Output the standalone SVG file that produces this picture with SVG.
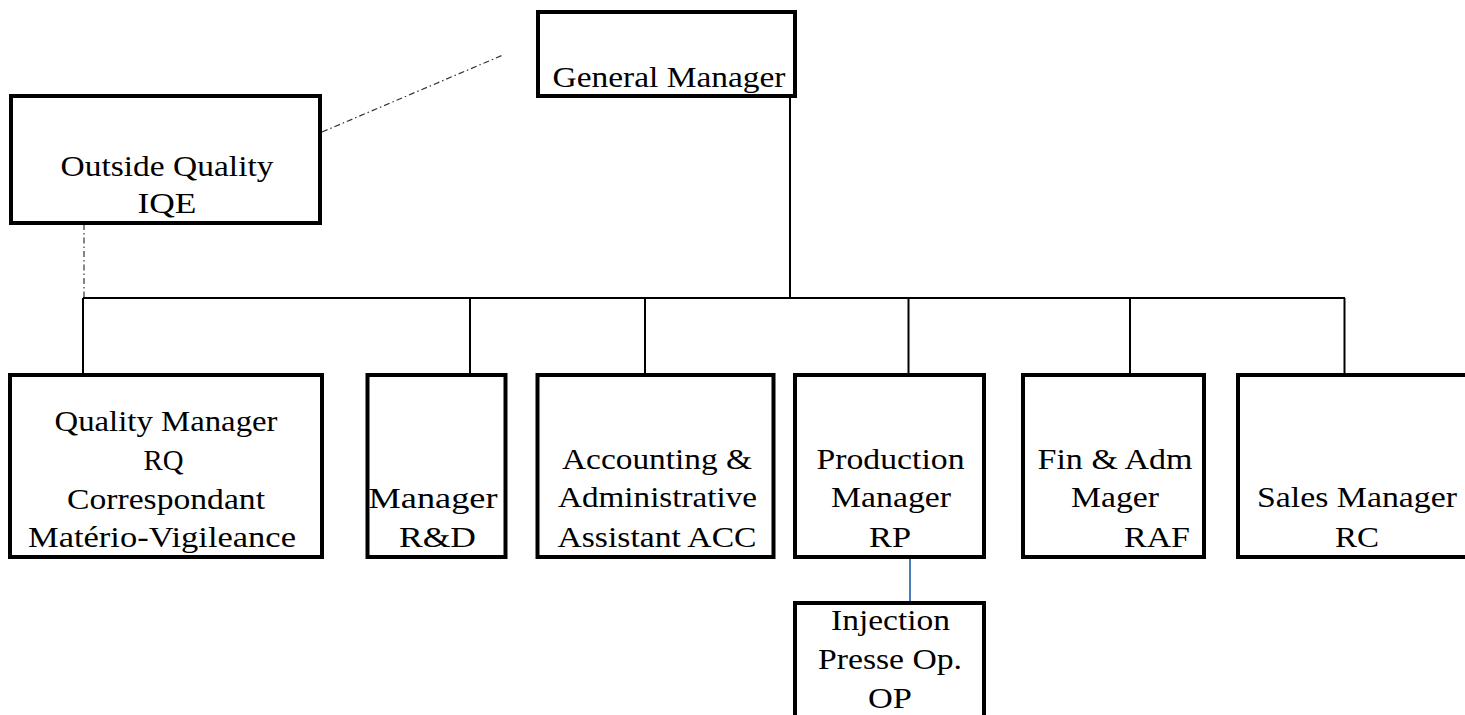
<svg xmlns="http://www.w3.org/2000/svg" width="1465" height="715" viewBox="0 0 1465 715">
  <style>
    .box { fill: #ffffff; stroke: #000000; stroke-width: 4; }
    .wire { fill: none; stroke: #000000; stroke-width: 2; }
    .dotted { fill: none; stroke: #333333; stroke-width: 1.2; stroke-dasharray: 6 3 1.5 3; }
    .blue { fill: none; stroke: #4a7ebb; stroke-width: 2; }
    .lbl { font-size: 29px; font-weight: normal; fill: #000000; text-anchor: middle; }
  </style>
  <rect width="1465" height="715" fill="#ffffff"/>

  <!-- connectors -->
  <g id="connectors">
    <line class="dotted" x1="322" y1="132" x2="503" y2="55"/>
    <line class="dotted" x1="84" y1="224" x2="84" y2="297"/>
    <line class="wire" x1="790" y1="96" x2="790" y2="298"/>
    <line class="wire" x1="83" y1="298" x2="1345" y2="298"/>
    <line class="wire" x1="83" y1="298" x2="83" y2="375"/>
    <line class="wire" x1="470" y1="298" x2="470" y2="375"/>
    <line class="wire" x1="645" y1="298" x2="645" y2="375"/>
    <line class="wire" x1="908.5" y1="298" x2="908.5" y2="375"/>
    <line class="wire" x1="1130" y1="298" x2="1130" y2="375"/>
    <line class="wire" x1="1344.5" y1="298" x2="1344.5" y2="375"/>
    <line class="blue" x1="910" y1="557" x2="910" y2="603"/>
  </g>

  <g font-family="Liberation Serif, serif">
  <g id="general-manager">
    <rect class="box" x="538" y="12" width="257" height="84"/>
    <text class="lbl" x="669" y="87" textLength="233" lengthAdjust="spacingAndGlyphs">General Manager</text>
  </g>

  <g id="outside-quality">
    <rect class="box" x="11" y="96" width="309" height="127"/>
    <text class="lbl" x="167" y="175.5" textLength="213" lengthAdjust="spacingAndGlyphs">Outside Quality</text>
    <text class="lbl" x="167" y="213" textLength="59" lengthAdjust="spacingAndGlyphs">IQE</text>
  </g>

  <g id="quality-manager">
    <rect class="box" x="10" y="375" width="312" height="182"/>
    <text class="lbl" x="166" y="431" textLength="223" lengthAdjust="spacingAndGlyphs">Quality Manager</text>
    <text class="lbl" x="163.5" y="470" textLength="40" lengthAdjust="spacingAndGlyphs">RQ</text>
    <text class="lbl" x="166" y="508.5" textLength="198" lengthAdjust="spacingAndGlyphs">Correspondant</text>
    <text class="lbl" x="162" y="547" textLength="268" lengthAdjust="spacingAndGlyphs">Matério-Vigileance</text>
  </g>

  <g id="manager-rd">
    <rect class="box" x="367.5" y="375" width="138" height="182"/>
    <text class="lbl" x="433" y="508" textLength="129" lengthAdjust="spacingAndGlyphs">Manager</text>
    <text class="lbl" x="437.5" y="547" textLength="77" lengthAdjust="spacingAndGlyphs">R&amp;D</text>
  </g>

  <g id="accounting-assistant">
    <rect class="box" x="537.5" y="375" width="236" height="182"/>
    <text class="lbl" x="657" y="469" textLength="190" lengthAdjust="spacingAndGlyphs">Accounting &amp;</text>
    <text class="lbl" x="657.5" y="507" textLength="199" lengthAdjust="spacingAndGlyphs">Administrative</text>
    <text class="lbl" x="657" y="547" textLength="199" lengthAdjust="spacingAndGlyphs">Assistant ACC</text>
  </g>

  <g id="production-manager">
    <rect class="box" x="795" y="375" width="189" height="182"/>
    <text class="lbl" x="890.5" y="469" textLength="148" lengthAdjust="spacingAndGlyphs">Production</text>
    <text class="lbl" x="891" y="507" textLength="120" lengthAdjust="spacingAndGlyphs">Manager</text>
    <text class="lbl" x="890" y="547" textLength="42" lengthAdjust="spacingAndGlyphs">RP</text>
  </g>

  <g id="fin-adm-manager">
    <rect class="box" x="1023" y="375" width="181" height="182"/>
    <text class="lbl" x="1115" y="469" textLength="155" lengthAdjust="spacingAndGlyphs">Fin &amp; Adm</text>
    <text class="lbl" x="1115" y="507" textLength="88" lengthAdjust="spacingAndGlyphs">Mager</text>
    <text class="lbl" x="1157" y="547" textLength="66" lengthAdjust="spacingAndGlyphs">RAF</text>
  </g>

  <g id="sales-manager">
    <rect class="box" x="1238" y="375" width="240" height="182"/>
    <text class="lbl" x="1357" y="507" textLength="200" lengthAdjust="spacingAndGlyphs">Sales Manager</text>
    <text class="lbl" x="1357" y="547" textLength="44" lengthAdjust="spacingAndGlyphs">RC</text>
  </g>

  <g id="injection-operator">
    <rect class="box" x="795" y="603" width="189" height="130"/>
    <text class="lbl" x="890.5" y="630" textLength="119" lengthAdjust="spacingAndGlyphs">Injection</text>
    <text class="lbl" x="890" y="669" textLength="144" lengthAdjust="spacingAndGlyphs">Presse Op.</text>
    <text class="lbl" x="890" y="708" textLength="44" lengthAdjust="spacingAndGlyphs">OP</text>
  </g>
  </g>
</svg>
